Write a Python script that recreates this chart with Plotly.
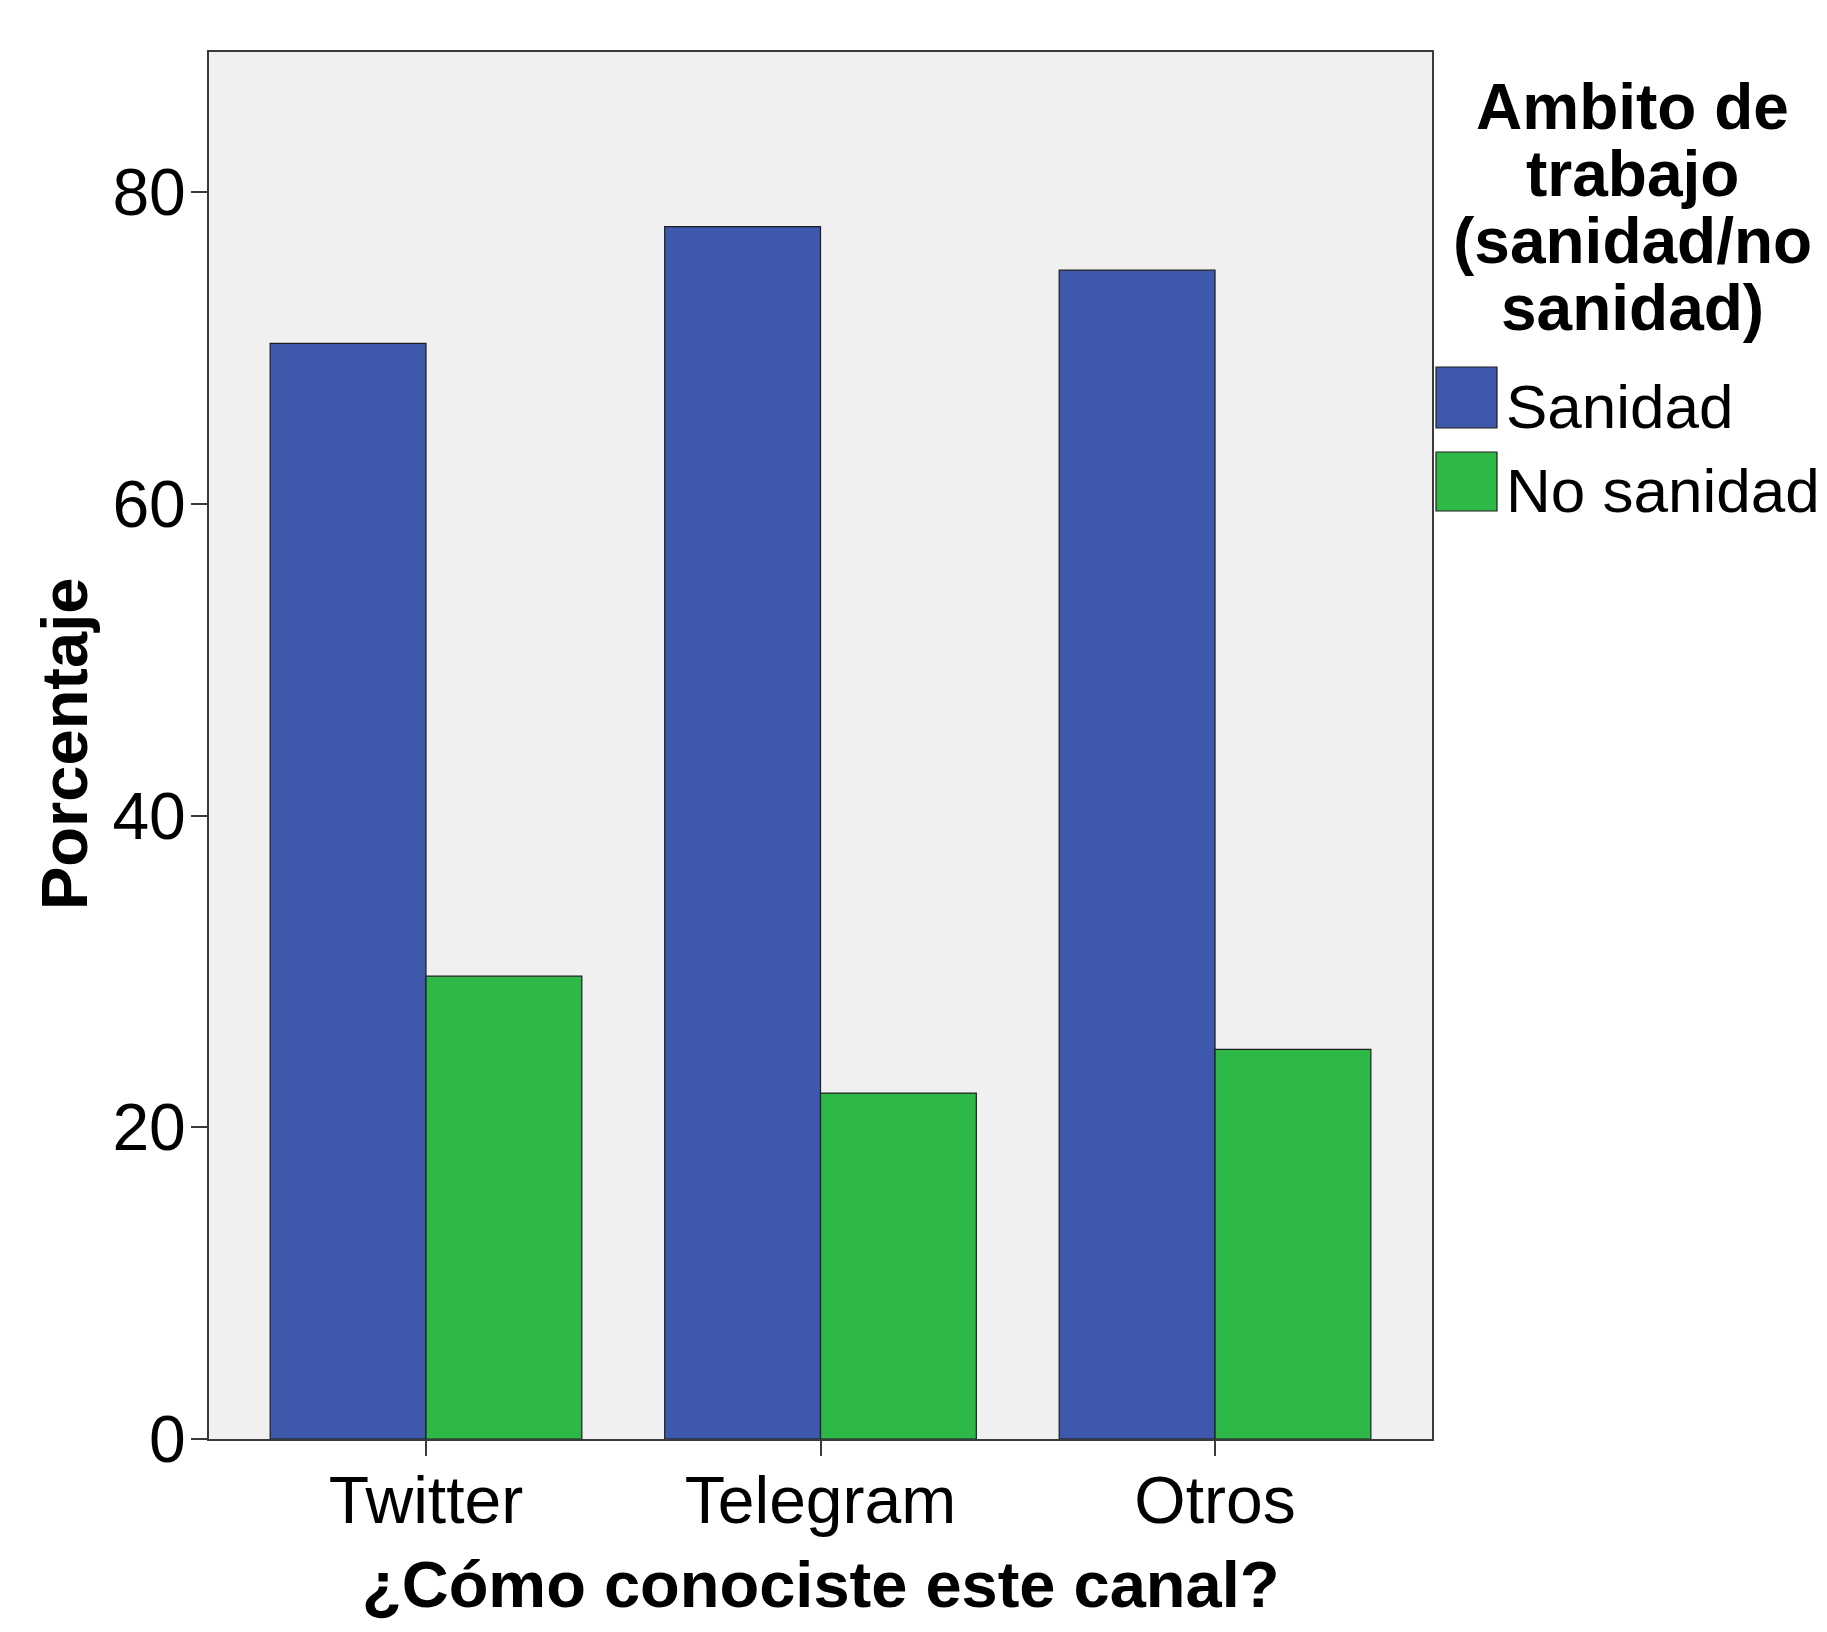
import plotly.graph_objects as go

categories = ["Twitter", "Telegram", "Otros"]
sanidad = [70.3, 77.8, 75.0]
no_sanidad = [29.7, 22.2, 25.0]
y_ticks = [0, 20, 40, 60, 80]
series_names = ["Sanidad", "No sanidad"]
legend_title_lines = ["Ambito de", "trabajo", "(sanidad/no", "sanidad)"]
x_title = "¿Cómo conociste este canal?"
y_title = "Porcentaje"

BLUE = "#3E58AC"
GREEN = "#2EB848"
FONT = "Liberation Sans, Arial, sans-serif"

# page has an 8px body margin; figure sized so it fits the 1827x1632 window
OFF = 8
W, H = 1811, 1616
ML, MR, MT, MB = 201, 387, 44, 185
PW, PH = W - ML - MR, H - MT - MB

def px_x(px):
    return (px - OFF - ML) / PW

def px_y(py):
    return (H - MB - (py - OFF)) / PH

fig = go.Figure()
fig.add_trace(go.Bar(x=categories, y=sanidad, name=series_names[0],
                     marker=dict(color=BLUE, line=dict(color="#1e1e1e", width=1.2)),
                     showlegend=False))
fig.add_trace(go.Bar(x=categories, y=no_sanidad, name=series_names[1],
                     marker=dict(color=GREEN, line=dict(color="#1e1e1e", width=1.2)),
                     showlegend=False))

annotations = []
title_y = [107, 174, 241, 308]
for line, yy in zip(legend_title_lines, title_y):
    annotations.append(dict(text=f"<b>{line}</b>", xref="paper", yref="paper",
                            x=px_x(1632), y=px_y(yy), xanchor="center", yanchor="middle",
                            showarrow=False, font=dict(family=FONT, size=64, color="black")))

shapes = []
swatches = [(367, 428, BLUE, 406), (452, 511, GREEN, 490)]
for (top, bot, col, ty), name in zip(swatches, series_names):
    shapes.append(dict(type="rect", xref="paper", yref="paper",
                       x0=px_x(1436), x1=px_x(1497), y0=px_y(bot), y1=px_y(top),
                       fillcolor=col, line=dict(color="#1e1e1e", width=1.2)))
    annotations.append(dict(text=name, xref="paper", yref="paper",
                            x=px_x(1504), y=px_y(ty), xanchor="left", yanchor="middle",
                            showarrow=False, font=dict(family=FONT, size=62, color="black")))

# axis titles
annotations.append(dict(text=f"<b>{x_title}</b>", xref="paper", yref="paper",
                        x=0.5, y=px_y(1585), xanchor="center", yanchor="middle",
                        showarrow=False, font=dict(family=FONT, size=65, color="black")))
annotations.append(dict(text=f"<b>{y_title}</b>", xref="paper", yref="paper",
                        x=px_x(64), y=px_y(744), xanchor="center", yanchor="middle",
                        textangle=-90,
                        showarrow=False, font=dict(family=FONT, size=65, color="black")))

fig.update_layout(
    width=W, height=H,
    margin=dict(l=ML, r=MR, t=MT, b=MB, pad=0),
    paper_bgcolor="white",
    plot_bgcolor="#F0F0F0",
    barmode="group",
    bargap=0.21,
    bargroupgap=0,
    font=dict(family=FONT, size=64, color="black"),
    annotations=annotations,
    shapes=shapes,
    xaxis=dict(
        range=[-0.55, 2.55],
        automargin=False,
        showgrid=False, zeroline=False,
        showline=True, linecolor="#3a3a3a", linewidth=2, mirror=True,
        ticks="outside", ticklen=15, tickwidth=2, tickcolor="#3a3a3a",
        ticklabelstandoff=-12,
        tickfont=dict(family=FONT, size=66, color="black"),
    ),
    yaxis=dict(
        range=[0, 89],
        tickvals=y_ticks,
        automargin=False,
        showgrid=False, zeroline=False,
        showline=True, linecolor="#3a3a3a", linewidth=2, mirror=True,
        ticks="outside", ticklen=16, tickwidth=2, tickcolor="#3a3a3a",
        ticklabelstandoff=-8,
        tickfont=dict(family=FONT, size=66, color="black"),
    ),
)

fig.write_html("out.html")
